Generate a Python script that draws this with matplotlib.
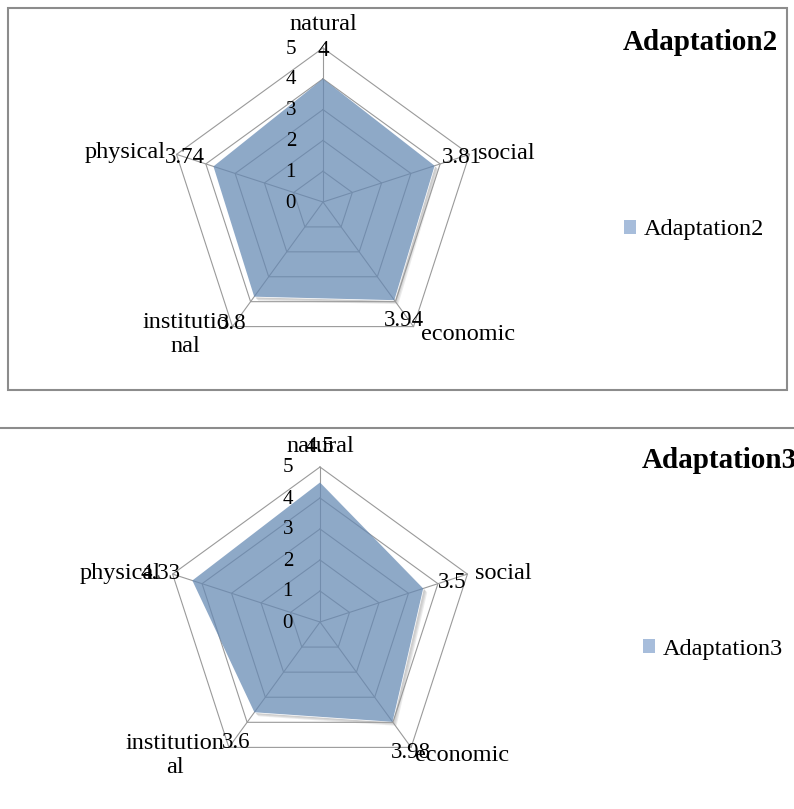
import numpy as np
import matplotlib.pyplot as plt
from matplotlib.patches import Rectangle, Patch
from matplotlib.lines import Line2D
from matplotlib.transforms import offset_copy

plt.rcParams['font.family'] = ['Liberation Serif', 'DejaVu Serif']

# Data
categories = ['natural', 'social', 'economic', 'institutional', 'physical']
cat_labels2 = ['natural', 'social', 'economic', 'institutio\nnal', 'physical']
cat_labels3 = ['natural', 'social', 'economic', 'institution\nal', 'physical']
adapt2 = [4, 3.81, 3.94, 3.8, 3.74]
adapt3 = [4.5, 3.5, 3.98, 3.6, 4.33]
val_text2 = ['4', '3.81', '3.94', '3.8', '3.74']
val_text3 = ['4.5', '3.5', '3.98', '3.6', '4.33']
rings = [1, 2, 3, 4, 5]
tick_labels = ['0', '1', '2', '3', '4', '5']

W, H = 794, 809
fig = plt.figure(figsize=(W / 100, H / 100), dpi=100)

grid_col = '#9a9a9a'
fill_col = '#6589b3'
legend_col = '#a7bddb'


def radar(center, radius, values, cat_labels, val_text, cat_off, val_off, name, title_xy, title_ha, leg_xy):
    cx, cy = center
    ax = fig.add_axes([(cx - radius) / W, (H - cy - radius) / H, 2 * radius / W, 2 * radius / H],
                      projection='polar')
    ax.set_theta_offset(np.pi / 2)
    ax.set_theta_direction(-1)
    ax.set_ylim(0, 5)
    ax.grid(False)
    ax.spines['polar'].set_visible(False)
    ax.set_xticks([])
    ax.set_yticks([])
    ax.patch.set_visible(False)

    n = len(categories)
    theta = np.arange(n) * 2 * np.pi / n
    tc = np.append(theta, theta[0])
    vc = np.append(values, values[0])

    # soft shadow, then opaque base so the shadow only shows outside
    for k, a in [(4, 0.35), (3, 0.5), (2, 0.7)]:
        tr = offset_copy(ax.transData, fig=fig, x=k, y=-k, units='dots')
        ax.fill(tc, vc, color='#c8c8c8', alpha=a, lw=0, transform=tr, zorder=1, clip_on=False)
    ax.fill(tc, vc, color='white', zorder=2, clip_on=False)

    for r in rings:
        ax.plot(tc, [r] * (n + 1), color=grid_col, lw=0.8, zorder=3, clip_on=False)
    for t in theta:
        ax.plot([t, t], [0, 5], color=grid_col, lw=0.8, zorder=3, clip_on=False)

    ax.fill(tc, vc, color=fill_col, alpha=0.73, lw=0, zorder=4, clip_on=False)

    for i, t in enumerate(tick_labels):
        ax.annotate(t, xy=(0, i), xytext=(-27, -1), textcoords='offset pixels',
                    ha='right', va='center', fontsize=15, zorder=6)

    for i in range(n):
        (dx, dy), ha = cat_off[i]
        ax.annotate(cat_labels[i], xy=(theta[i], 5), xytext=(dx, dy), textcoords='offset pixels',
                    ha=ha, va='center', multialignment='center', fontsize=17.5, zorder=6,
                    linespacing=1.15)
        vx, vy = val_off[i]
        ax.annotate(val_text[i], xy=(theta[i], 5), xytext=(vx, vy), textcoords='offset pixels',
                    ha='center', va='center', fontsize=16.5, zorder=7)

    fig.text(title_xy[0] / W, 1 - title_xy[1] / H, name, ha=title_ha, va='center',
             fontsize=21, fontweight='bold')
    handle = Patch(facecolor=legend_col, edgecolor='none', label=name)
    ax.legend(handles=[handle], loc='center left', bbox_to_anchor=(leg_xy[0] / W, 1 - leg_xy[1] / H),
              bbox_transform=fig.transFigure, frameon=False, fontsize=17.5,
              handlelength=0.5, handleheight=0.5, handletextpad=0.3,
              borderpad=0, borderaxespad=0)


radar((323, 202), 154, adapt2, cat_labels2, val_text2,
      cat_off=[((0, 23), 'center'), ((9, 1), 'left'), ((7, -8), 'left'),
               ((-47, -8), 'center'), ((-11, 2), 'right')],
      val_off=[(0, -3), (-8, -3), (-10, 6), (0, 3), (8, -3)],
      name='Adaptation2', title_xy=(700, 42), title_ha='center', leg_xy=(624, 230))

radar((320, 622), 155, adapt3, cat_labels3, val_text3,
      cat_off=[((0, 20), 'center'), ((8, 1), 'left'), ((4, -8), 'left'),
               ((-54, -8), 'center'), ((-12, 1), 'right')],
      val_off=[(0, 20), (-15, -8), (0, -5), (7, 5), (-12, 1)],
      name='Adaptation3', title_xy=(642, 460), title_ha='left', leg_xy=(643, 649))

# chart frames
fig.add_artist(Rectangle((8 / W, 1 - 390 / H), 779 / W, 382 / H, transform=fig.transFigure,
                         fill=False, edgecolor='#8c8c8c', lw=1.5))
fig.add_artist(Line2D([0, 1], [1 - 428 / H, 1 - 428 / H], transform=fig.transFigure,
                      color='#8c8c8c', lw=1.5))

fig.savefig('out.png', dpi=100)
